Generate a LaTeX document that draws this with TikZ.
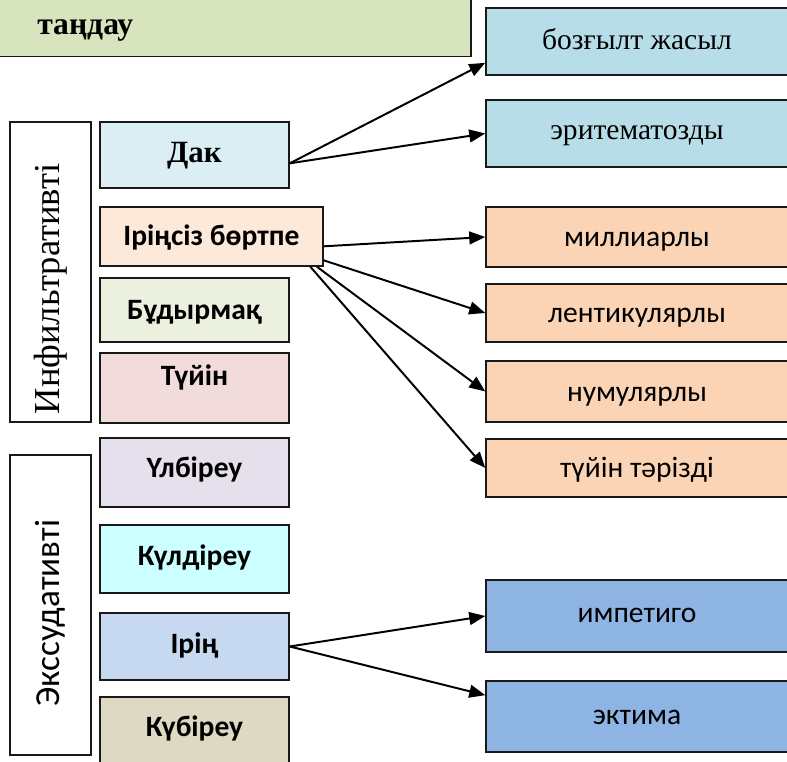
\documentclass[tikz,border=0pt]{standalone}
\usepackage{fontspec}
\setmainfont{Liberation Serif}
\newfontfamily\calibri{Carlito}
\usetikzlibrary{arrows.meta,positioning,calc}

\definecolor{taskgreen}{HTML}{D7E4BD}
\definecolor{paleblue}{HTML}{B7DEE8}
\definecolor{dakblue}{HTML}{DAEEF3}
\definecolor{peach}{HTML}{FDE9D9}
\definecolor{palegreen}{HTML}{EBF1DE}
\definecolor{palerose}{HTML}{F2DCDB}
\definecolor{lilac}{HTML}{E5E0EC}
\definecolor{cyanish}{HTML}{CCFFFF}
\definecolor{skyblue}{HTML}{C6D9F1}
\definecolor{khaki}{HTML}{DDD9C3}
\definecolor{orange}{HTML}{FAD4B4}
\definecolor{midblue}{HTML}{8EB4E3}

\begin{document}
\begin{tikzpicture}[
    x=0.025cm, y=-0.025cm,
    >={Triangle[length=4mm,width=3.2mm]},
    every node/.style={font=\fontsize{21}{25}\selectfont},
    box/.style={draw=black!90, line width=1pt, inner sep=0pt},
    kind/.style={box, fill=#1, minimum width=4.725cm,
      font=\calibri\bfseries\fontsize{21}{25}\selectfont,
      text height=13.5pt, text depth=0pt},
    result/.style={box, fill=#1, minimum width=7.55cm,
      font=\calibri\fontsize{21}{25}\selectfont,
      text height=14pt, text depth=0pt},
    group/.style={box, fill=white, minimum width=2.025cm, minimum height=7.5cm},
    link/.style={->, line width=1.4pt}
  ]
    \useasboundingbox (0,0) rectangle (787,761);
    \clip (0,0) rectangle (787,761);

    %------------------ Task box ------------------%
    \node[box, fill=taskgreen, minimum width=12cm, minimum height=3cm,
      anchor=south west] (task) at (-10,57) {};
    \node[anchor=base west, inner sep=0pt,
      font=\bfseries\fontsize{22.5}{27}\selectfont] (tasktext) at (37,35) {таңдау};

    %------------------ Groups ------------------%
    \node[group] (infil) at (50.5,272) {};
    \node[rotate=90, inner sep=0pt, font=\fontsize{26}{30}\selectfont] (infiltext) at (50.5,289) {Инфильтративті};
    \node[group] (exsud) at (50.5,605) {};
    \node[rotate=90, inner sep=0pt, font=\calibri\fontsize{25}{30}\selectfont] (exsudtext) at (50.5,613) {Экссудативті};

    %------------------ Elements ------------------%
    \node[kind=dakblue, minimum height=1.65cm, text height=14.6pt, text depth=4.3pt,
      font=\bfseries\fontsize{22}{26}\selectfont] (dak) at (194.5,155) {Дак};
    \node[kind=peach, minimum width=5.575cm, minimum height=1.475cm] (ib) at (211.5,236.5) {Іріңсіз бөртпе};
    \node[kind=palegreen, minimum height=1.6cm] (bud) at (194.5,310) {Бұдырмақ};
    \node[kind=palerose, minimum height=1.75cm, text depth=17pt] (tuyin) at (194.5,388) {Түйін};
    \node[kind=lilac, minimum height=1.725cm, text depth=6.4pt] (ulb) at (194.5,472.5) {Үлбіреу};
    \node[kind=cyanish, minimum height=1.7cm, text depth=4.3pt] (kul) at (194.5,559) {Күлдіреу};
    \node[kind=skyblue, minimum height=1.675cm, text depth=3.5pt] (irin) at (194.5,646.5) {Ірің};
    \node[kind=khaki, minimum height=1.75cm, text depth=7pt] (kub) at (194.5,732) {Күбіреу};

    %------------------ Results ------------------%
    \node[result=paleblue, minimum height=1.675cm, text height=13.8pt, text depth=2.8pt,
      font=\fontsize{21}{25}\selectfont] (boz) at (637,41.5) {бозғылт жасыл};
    \node[result=paleblue, minimum height=1.675cm, text height=13.8pt, text depth=5.7pt,
      font=\fontsize{21}{25}\selectfont] (erit) at (637,133.5) {эритематозды};
    \node[result=orange, minimum height=1.5cm] (mil) at (637,237) {миллиарлы};
    \node[result=orange, minimum height=1.45cm] (lent) at (637,313) {лентикулярлы};
    \node[result=orange, minimum height=1.525cm] (num) at (637,391.5) {нумулярлы};
    \node[result=orange, minimum height=1.45cm] (tt) at (637,468) {түйін тәрізді};
    \node[result=midblue, minimum height=1.8cm, text depth=4.3pt] (imp) at (637,616) {импетиго};
    \node[result=midblue, minimum height=1.775cm, text depth=2pt] (ekt) at (637,716.5) {эктима};

    %------------------ Arrows ------------------%
    \draw[link] (dak.-5) -- (boz.188);
    \draw[link] (dak.-5) -- (erit.west);

    \draw[link] (ib.-5) -- (mil.west);
    \draw[link] (ib.-12) -- (lent.west);
    \draw[link] (ib.-16) -- (num.west);
    \draw[link] (ib.-17.5) -- (tt.west);

    \draw[link] (irin.east) -- (imp.west);
    \draw[link] (irin.east) -- (ekt.172);

  \end{tikzpicture}
\end{document}
